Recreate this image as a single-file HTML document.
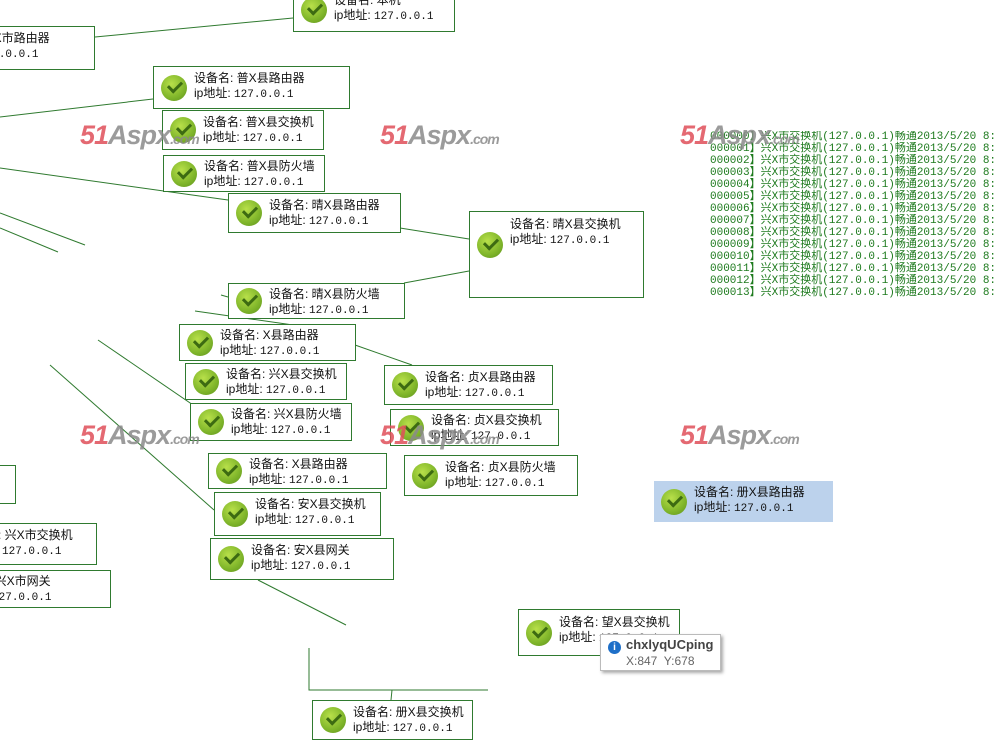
<!DOCTYPE html>
<html><head><meta charset="utf-8">
<style>
html,body{margin:0;padding:0;overflow:hidden;}
body{width:994px;height:751px;position:relative;background:#fff;font-family:"Liberation Mono","Noto Sans CJK SC",monospace;}
#w{position:absolute;left:0;top:0;width:994px;height:751px;overflow:hidden;}
.n{position:absolute;border:1px solid #2f7a2f;background:#fff;box-sizing:border-box;font-size:12px;line-height:15px;color:#111;white-space:nowrap;}
.n .i{position:absolute;left:7px;top:50%;margin-top:-13px;width:26px;height:26px;border-radius:50%;background:radial-gradient(circle at 40% 35%,#b8e04a,#7fb52a 60%,#5c8f1c);}
.n .i:after{content:"";position:absolute;left:7px;top:6px;width:11px;height:6px;border-left:3px solid #3d6b12;border-bottom:3px solid #3d6b12;transform:rotate(-45deg);}
.n .t{position:absolute;left:40px;top:4px;font-family:"Liberation Sans","Noto Sans CJK SC",sans-serif;}
.n .t span{font-family:"Liberation Mono",monospace;font-size:11px;}
.hl{background:#bcd2ec;border:none;}
.wm{position:absolute;font-family:"Liberation Sans",sans-serif;font-style:italic;font-weight:bold;font-size:27px;letter-spacing:-1px;}
.wm b{color:#e0505a;}
.wm i{color:#8a8a8a;font-style:italic;}
.wm small{font-size:14px;color:#8a8a8a;font-weight:bold;}
.log{position:absolute;left:710px;top:131px;width:284px;overflow:hidden;font-size:11px;line-height:12px;color:#1d7a1d;font-family:"Liberation Mono","Noto Sans CJK SC",monospace;white-space:nowrap;}
.tip{position:absolute;left:600px;top:634px;width:119px;height:35px;background:#fff;border:1px solid #bbb;box-shadow:2px 2px 3px #aaa;font-family:"Liberation Sans",sans-serif;}
</style></head><body><div id="w">
<svg width="994" height="751" style="position:absolute;left:0;top:0" stroke="#2f7a2f" stroke-width="1" fill="none">
<line x1="95" y1="37" x2="293" y2="18"/>
<line x1="0" y1="117" x2="153" y2="99"/>
<line x1="0" y1="168" x2="228" y2="200"/>
<line x1="0" y1="213" x2="85" y2="245"/>
<line x1="0" y1="228" x2="58" y2="252"/>
<line x1="400" y1="228" x2="469" y2="239"/>
<line x1="404" y1="283" x2="469" y2="271"/>
<line x1="221" y1="295" x2="228" y2="297"/>
<line x1="195" y1="311" x2="300" y2="326"/>
<line x1="355" y1="345" x2="412" y2="365"/>
<line x1="98" y1="340" x2="215" y2="420"/>
<line x1="50" y1="365" x2="214" y2="510"/>
<line x1="258" y1="580" x2="346" y2="625"/>
<polyline points="309,648 309,690 488,690"/>
<line x1="392" y1="690" x2="391" y2="700"/>
</svg>

<div class="n" style="left:293px;top:-12px;width:162px;height:44px"><div class="i"></div><div class="t">设备名: 本机<br>ip地址: <span>127.0.0.1</span></div></div>
<div class="n" style="left:-80px;top:26px;width:175px;height:44px"><div class="t" style="left:18px;top:4px">设备名: 兴X市路由器<br>ip地址: <span>127.0.0.1</span></div></div>
<div class="n" style="left:153px;top:66px;width:197px;height:43px"><div class="i"></div><div class="t">设备名: 普X县路由器<br>ip地址: <span>127.0.0.1</span></div></div>
<div class="n" style="left:162px;top:110px;width:162px;height:40px"><div class="i"></div><div class="t">设备名: 普X县交换机<br>ip地址: <span>127.0.0.1</span></div></div>
<div class="n" style="left:163px;top:155px;width:162px;height:37px"><div class="i"></div><div class="t" style="top:3px">设备名: 普X县防火墙<br>ip地址: <span>127.0.0.1</span></div></div>
<div class="n" style="left:228px;top:193px;width:173px;height:40px"><div class="i"></div><div class="t">设备名: 晴X县路由器<br>ip地址: <span>127.0.0.1</span></div></div>
<div class="n" style="left:469px;top:211px;width:175px;height:87px"><div class="i" style="top:20px;margin-top:0"></div><div class="t" style="top:5px">设备名: 晴X县交换机<br>ip地址: <span>127.0.0.1</span></div></div>
<div class="n" style="left:228px;top:283px;width:177px;height:36px"><div class="i"></div><div class="t" style="top:3px">设备名: 晴X县防火墙<br>ip地址: <span>127.0.0.1</span></div></div>
<div class="n" style="left:179px;top:324px;width:177px;height:37px"><div class="i"></div><div class="t" style="top:3px">设备名: X县路由器<br>ip地址: <span>127.0.0.1</span></div></div>
<div class="n" style="left:185px;top:363px;width:162px;height:37px"><div class="i"></div><div class="t" style="top:3px">设备名: 兴X县交换机<br>ip地址: <span>127.0.0.1</span></div></div>
<div class="n" style="left:190px;top:403px;width:162px;height:38px"><div class="i"></div><div class="t" style="top:3px">设备名: 兴X县防火墙<br>ip地址: <span>127.0.0.1</span></div></div>
<div class="n" style="left:384px;top:365px;width:169px;height:40px"><div class="i"></div><div class="t">设备名: 贞X县路由器<br>ip地址: <span>127.0.0.1</span></div></div>
<div class="n" style="left:390px;top:409px;width:169px;height:37px"><div class="i"></div><div class="t" style="top:3px">设备名: 贞X县交换机<br>ip地址: <span>127.0.0.1</span></div></div>
<div class="n" style="left:404px;top:455px;width:174px;height:41px"><div class="i"></div><div class="t">设备名: 贞X县防火墙<br>ip地址: <span>127.0.0.1</span></div></div>
<div class="n" style="left:208px;top:453px;width:179px;height:36px"><div class="i"></div><div class="t" style="top:3px">设备名: X县路由器<br>ip地址: <span>127.0.0.1</span></div></div>
<div class="n" style="left:214px;top:492px;width:167px;height:44px"><div class="i"></div><div class="t">设备名: 安X县交换机<br>ip地址: <span>127.0.0.1</span></div></div>
<div class="n" style="left:210px;top:538px;width:184px;height:42px"><div class="i"></div><div class="t">设备名: 安X县网关<br>ip地址: <span>127.0.0.1</span></div></div>
<div class="n" style="left:-100px;top:465px;width:116px;height:39px"></div>
<div class="n" style="left:-79px;top:523px;width:176px;height:42px"><div class="t" style="top:4px">设备名: 兴X市交换机<br>ip地址: <span>127.0.0.1</span></div></div>
<div class="n" style="left:-89px;top:570px;width:200px;height:38px"><div class="t" style="top:3px">设备名: 兴X市网关<br>ip地址: <span>127.0.0.1</span></div></div>
<div class="n hl" style="left:654px;top:481px;width:179px;height:41px"><div class="i"></div><div class="t" style="top:4px">设备名: 册X县路由器<br>ip地址: <span>127.0.0.1</span></div></div>
<div class="n" style="left:518px;top:609px;width:162px;height:47px"><div class="i"></div><div class="t" style="top:5px">设备名: 望X县交换机<br>ip地址: <span>127.0.0.1</span></div></div>
<div class="n" style="left:312px;top:700px;width:161px;height:40px"><div class="i"></div><div class="t">设备名: 册X县交换机<br>ip地址: <span>127.0.0.1</span></div></div>

<div class="log">000000】兴X市交换机(127.0.0.1)畅通2013/5/20 8:5<br>000001】兴X市交换机(127.0.0.1)畅通2013/5/20 8:5<br>000002】兴X市交换机(127.0.0.1)畅通2013/5/20 8:5<br>000003】兴X市交换机(127.0.0.1)畅通2013/5/20 8:5<br>000004】兴X市交换机(127.0.0.1)畅通2013/5/20 8:5<br>000005】兴X市交换机(127.0.0.1)畅通2013/5/20 8:5<br>000006】兴X市交换机(127.0.0.1)畅通2013/5/20 8:5<br>000007】兴X市交换机(127.0.0.1)畅通2013/5/20 8:5<br>000008】兴X市交换机(127.0.0.1)畅通2013/5/20 8:5<br>000009】兴X市交换机(127.0.0.1)畅通2013/5/20 8:5<br>000010】兴X市交换机(127.0.0.1)畅通2013/5/20 8:5<br>000011】兴X市交换机(127.0.0.1)畅通2013/5/20 8:5<br>000012】兴X市交换机(127.0.0.1)畅通2013/5/20 8:5<br>000013】兴X市交换机(127.0.0.1)畅通2013/5/20 8:5</div>

<div class="wm" style="left:80px;top:120px;opacity:.85"><b>51</b><i>Aspx</i><small>.com</small></div>
<div class="wm" style="left:380px;top:120px;opacity:.85"><b>51</b><i>Aspx</i><small>.com</small></div>
<div class="wm" style="left:680px;top:120px;opacity:.85"><b>51</b><i>Aspx</i><small>.com</small></div>
<div class="wm" style="left:80px;top:420px;opacity:.85"><b>51</b><i>Aspx</i><small>.com</small></div>
<div class="wm" style="left:380px;top:420px;opacity:.85"><b>51</b><i>Aspx</i><small>.com</small></div>
<div class="wm" style="left:680px;top:420px;opacity:.85"><b>51</b><i>Aspx</i><small>.com</small></div>

<div class="tip">
<div style="position:absolute;left:7px;top:6px;width:13px;height:13px;border-radius:50%;background:#1e6fc8;color:#fff;font-size:10px;line-height:13px;text-align:center;font-weight:bold">i</div>
<div style="position:absolute;left:25px;top:2px;font-size:13px;font-weight:bold;color:#444">chxlyqUCping</div>
<div style="position:absolute;left:25px;top:19px;font-size:12px;color:#666">X:847&nbsp; Y:678</div>
</div>
</div></body></html>
